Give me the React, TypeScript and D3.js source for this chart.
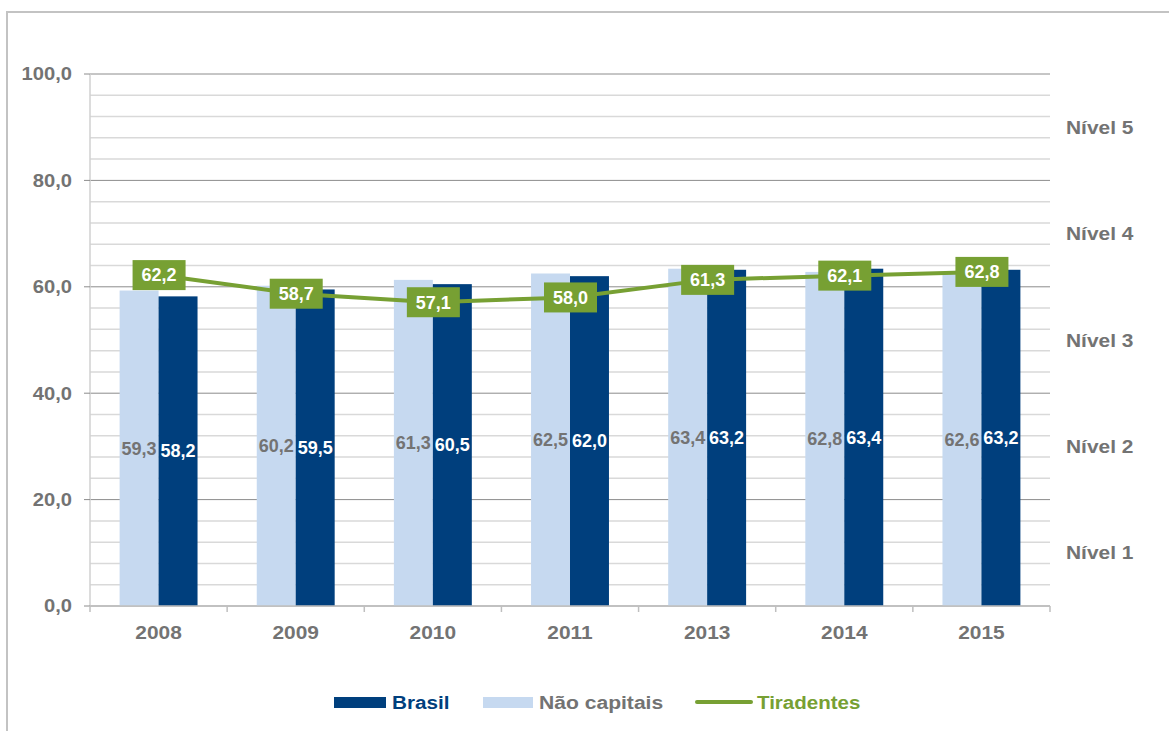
import React from 'react';
import * as d3 from 'd3';

const years = ['2008', '2009', '2010', '2011', '2013', '2014', '2015'];
const naoCapitais = [59.3, 60.2, 61.3, 62.5, 63.4, 62.8, 62.6];
const brasil = [58.2, 59.5, 60.5, 62.0, 63.2, 63.4, 63.2];
const tiradentes = [62.2, 58.7, 57.1, 58.0, 61.3, 62.1, 62.8];
const yTicks = [0, 20, 40, 60, 80, 100];
const niveis = [
  { label: 'Nível 5', mid: 90 },
  { label: 'Nível 4', mid: 70 },
  { label: 'Nível 3', mid: 50 },
  { label: 'Nível 2', mid: 30 },
  { label: 'Nível 1', mid: 10 },
];

const W = 1169;
const H = 731;
const left = 90;
const right = 1050;
const top = 74;
const bottom = 606;

const DARK = '#003f7d';
const LIGHT = '#c6d9f0';
const GREEN = '#77a033';
const GRAY = '#737373';
const FONT = '"Liberation Sans", Arial, sans-serif';

const fmt = (v: number) => v.toFixed(1).replace('.', ',');

// axis text in the source looks a bit wider than plain Arial
function Wide(props: { x: number; y: number; anchor?: string; size: number; sx: number; fill: string; children: React.ReactNode }) {
  return (
    <text
      transform={`translate(${props.x},${props.y}) scale(${props.sx},1)`}
      dy="0.35em"
      textAnchor={props.anchor || 'start'}
      fontSize={props.size}
      fontWeight="bold"
      fill={props.fill}
    >
      {props.children}
    </text>
  );
}

export default function App() {
  const y = d3.scaleLinear().domain([0, 100]).range([bottom, top]);
  const x0 = d3.scaleBand().domain(years).range([left, right]);
  const x1 = d3
    .scaleBand()
    .domain(['nao', 'brasil'])
    .range([0, x0.bandwidth()])
    .paddingInner(0)
    .paddingOuter(0.76);
  const cx = (yr: string) => (x0(yr) as number) + x0.bandwidth() / 2;

  const line = d3
    .line<number>()
    .x((_, i) => cx(years[i]))
    .y((d) => y(d));

  const minor = d3.range(0, 101, 4);

  return (
    <svg width={W} height={H} style={{ position: 'absolute', left: 0, top: 0, fontFamily: FONT }}>
      <rect x={0} y={0} width={W} height={H} fill="#fff" />
      <rect x={7} y={12} width={W} height={H} fill="none" stroke="#c3c3c3" strokeWidth={2} />

      {/* gridlines */}
      {minor.map((v) => (
        <line
          key={'g' + v}
          x1={left}
          x2={right}
          y1={y(v)}
          y2={y(v)}
          stroke={v % 20 === 0 ? '#8c8c8c' : '#d9d9d9'}
          strokeWidth={v % 20 === 0 ? 1 : 1.5}
        />
      ))}
      <line x1={left} x2={left} y1={top} y2={bottom} stroke="#d0d0d0" strokeWidth={1.5} />
      {yTicks.map((v) => (
        <g key={'yt' + v}>
          <line x1={left - 6} x2={left} y1={y(v)} y2={y(v)} stroke="#8c8c8c" />
          <Wide x={left - 18} y={y(v)} anchor="end" size={18} sx={1.12} fill={GRAY}>
            {fmt(v)}
          </Wide>
        </g>
      ))}

      {/* bars */}
      {years.map((yr, i) => (
        <g key={'b' + yr} transform={`translate(${x0(yr)},0)`}>
          <rect
            x={x1('nao')}
            y={y(naoCapitais[i])}
            width={x1.bandwidth()}
            height={bottom - y(naoCapitais[i])}
            fill={LIGHT}
          />
          <rect
            x={x1('brasil')}
            y={y(brasil[i])}
            width={x1.bandwidth()}
            height={bottom - y(brasil[i])}
            fill={DARK}
          />
          <text
            x={(x1('nao') as number) + x1.bandwidth() / 2}
            y={y(naoCapitais[i] / 2)}
            dy="0.35em"
            textAnchor="middle"
            fontSize={18}
            fontWeight="bold"
            fill={GRAY}
          >
            {fmt(naoCapitais[i])}
          </text>
          <text
            x={(x1('brasil') as number) + x1.bandwidth() / 2}
            y={y(brasil[i] / 2)}
            dy="0.35em"
            textAnchor="middle"
            fontSize={18}
            fontWeight="bold"
            fill="#fff"
          >
            {fmt(brasil[i])}
          </text>
        </g>
      ))}

      {/* x axis */}
      <line x1={left} x2={right} y1={bottom} y2={bottom} stroke="#bfbfbf" strokeWidth={1.5} />
      {[...years.map((yr) => x0(yr) as number), right].map((xv, i) => (
        <line key={'xt' + i} x1={xv} x2={xv} y1={bottom} y2={bottom + 6} stroke="#bfbfbf" strokeWidth={1.5} />
      ))}
      {years.map((yr) => (
        <Wide key={'xl' + yr} x={cx(yr)} y={632} anchor="middle" size={19} sx={1.1} fill={GRAY}>
          {yr}
        </Wide>
      ))}

      {/* line */}
      <path d={line(tiradentes) || ''} fill="none" stroke={GREEN} strokeWidth={4} />
      {tiradentes.map((v, i) => (
        <g key={'t' + i}>
          <rect x={cx(years[i]) - 26} y={y(v) - 15} width={53} height={30} fill={GREEN} />
          <text
            x={cx(years[i]) + 0.5}
            y={y(v)}
            dy="0.35em"
            textAnchor="middle"
            fontSize={18}
            fontWeight="bold"
            fill="#fff"
          >
            {fmt(v)}
          </text>
        </g>
      ))}

      {/* nível labels */}
      {niveis.map((n) => (
        <Wide key={n.label} x={1066} y={y(n.mid)} size={19} sx={1.1} fill={GRAY}>
          {n.label}
        </Wide>
      ))}

      {/* legend */}
      <rect x={334} y={697} width={52} height={11} fill={DARK} />
      <Wide x={392} y={702} size={19} sx={1.09} fill={DARK}>
        Brasil
      </Wide>
      <rect x={483} y={697} width={50} height={11} fill={LIGHT} />
      <Wide x={539} y={702} size={19} sx={1.11} fill={GRAY}>
        Não capitais
      </Wide>
      <line x1={697} x2={751} y1={702} y2={702} stroke={GREEN} strokeWidth={4} strokeLinecap="round" />
      <Wide x={757} y={702} size={19} sx={1.08} fill={GREEN}>
        Tiradentes
      </Wide>
    </svg>
  );
}
